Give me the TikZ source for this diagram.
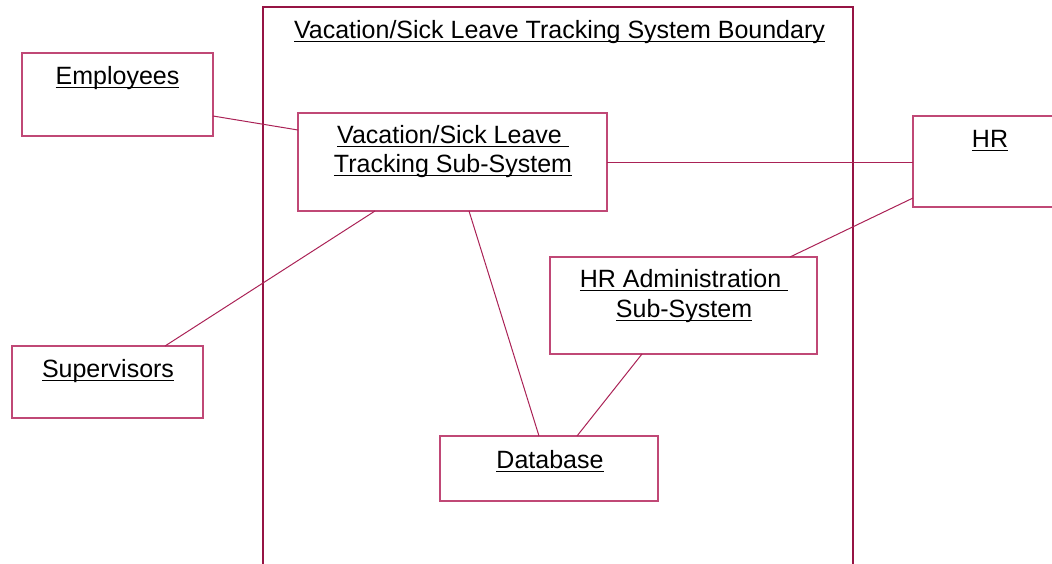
\documentclass[tikz,border=0pt]{standalone}
\usepackage{fontspec}
\setmainfont{Liberation Sans}
\definecolor{frameline}{RGB}{150,20,68}
\definecolor{boxline}{RGB}{192,72,118}
\definecolor{linkline}{RGB}{170,34,86}
% underlined label text, rule set just below the baseline
\newcommand\uln[1]{\setbox0\hbox{#1}\rlap{\rule[-4.2pt]{\wd0}{1.7pt}}\box0}
\tikzset{
  obj/.style={draw=boxline, line width=1.2pt, rectangle, inner sep=0pt, outer sep=0pt},
  lbl/.style={anchor=base, inner sep=0pt, font=\fontsize{25}{29}\selectfont, text=black},
  link/.style={draw=linkline, line width=1pt},
}
\begin{document}
\begin{tikzpicture}[x=1pt, y=-1pt]
  \useasboundingbox (0,0) rectangle (1052,563);
  \clip (0,0) rectangle (1052,563);
  % system boundary
  \draw[frameline, line width=1.1pt] (263,600) -- (263,7) -- (853,7) -- (853,600);
  \node[lbl] (title) at (559.5,38) {\uln{Vacation/Sick Leave Tracking System Boundary}};

  % objects
  \node[obj, minimum width=191pt, minimum height=83pt] (emp) at (117.5,94.5) {};
  \node[lbl] (empt) at (117.5,84) {\uln{Employees}};

  \node[obj, minimum width=309pt, minimum height=98pt] (trk) at (452.5,162) {};
  \node[lbl] (trkt1) at (453,143) {\uln{Vacation/Sick Leave\ }};
  \node[lbl] (trkt2) at (453,172) {\uln{Tracking Sub-System}};

  \node[obj, minimum width=154pt, minimum height=91pt] (hr) at (990,161.5) {};
  \node[lbl] (hrt) at (990,147) {\uln{HR}};

  \node[obj, minimum width=191pt, minimum height=72pt] (sup) at (107.5,382) {};
  \node[lbl] (supt) at (108,377) {\uln{Supervisors}};

  \node[obj, minimum width=267pt, minimum height=97pt] (adm) at (683.5,305.5) {};
  \node[lbl] (admt1) at (684,287) {\uln{HR Administration\ }};
  \node[lbl] (admt2) at (684,317) {\uln{Sub-System}};

  \node[obj, minimum width=218pt, minimum height=65pt] (db) at (549,468.5) {};
  \node[lbl] (dbt) at (550,468) {\uln{Database}};

  % links
  \draw[link] ([yshift=-21.5pt]emp.east) -- ([yshift=32pt]trk.west);
  \draw[link] (trk.east) -- (trk.east -| hr.west);
  \draw[link] ([xshift=-77.5pt]trk.south) -- ([xshift=57.5pt]sup.north);
  \draw[link] ([xshift=16.5pt]trk.south) -- ([xshift=-10pt]db.north);
  \draw[link] ([yshift=-36.5pt]hr.west) -- ([xshift=106.5pt]adm.north);
  \draw[link] ([xshift=-41.5pt]adm.south) -- ([xshift=28pt]db.north);
\end{tikzpicture}
\end{document}
